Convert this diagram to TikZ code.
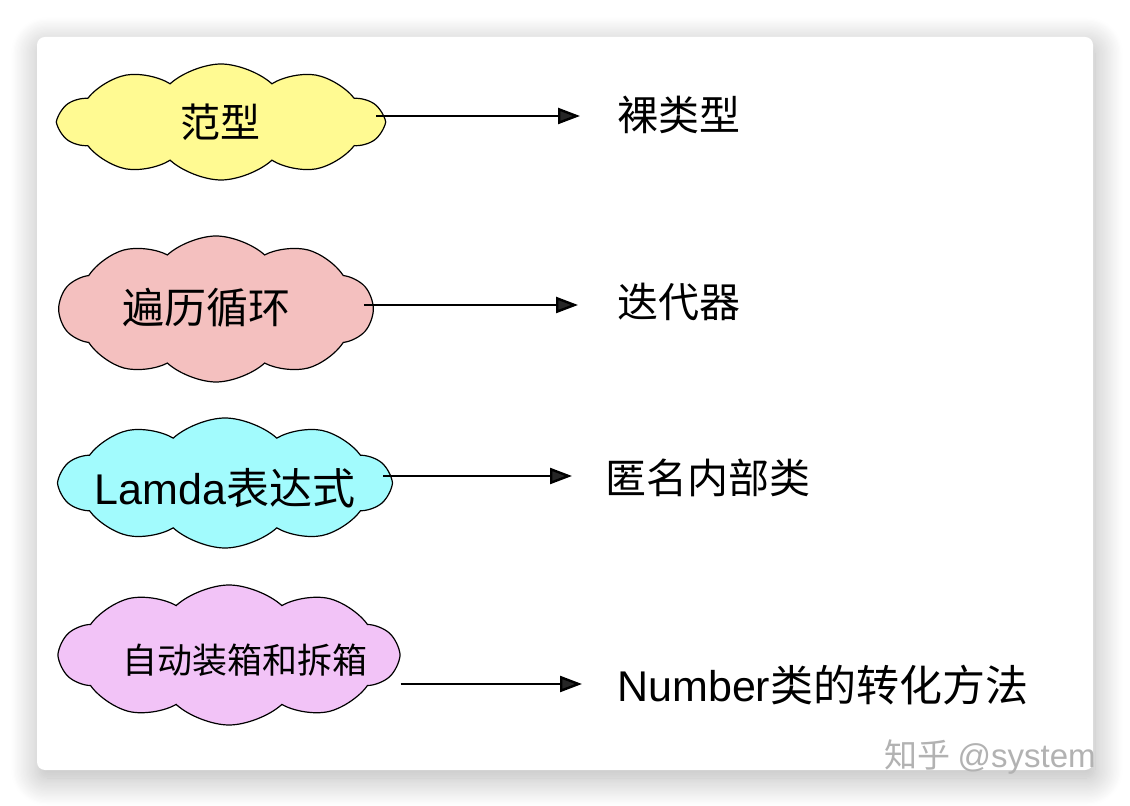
\documentclass[tikz,border=0pt]{standalone}
\usepackage{fontspec}
\setmainfont{Noto Sans CJK SC}
\newfontfamily\latinfont{Liberation Sans}
\usetikzlibrary{shapes.symbols,arrows.meta,shadows.blur}
\definecolor{puffyellow}{HTML}{FFFA92}
\definecolor{puffrose}{HTML}{F4C0BF}
\definecolor{puffcyan}{HTML}{A2FBFD}
\definecolor{puffviolet}{HTML}{F2C3F7}
\tikzset{
  puff/.style={cloud, cloud puffs=10, cloud puff arc=85, cloud ignores aspect,
    draw=black, line width=0.6pt, inner sep=0pt},
  pufftext/.style={inner sep=0pt, font=\fontsize{20}{24}\selectfont},
  term/.style={anchor=west, inner sep=0pt, font=\fontsize{20.5}{24}\selectfont},
  link/.style={-{Triangle[length=11pt,width=8pt]}, line width=1.2pt},
}
\begin{document}
\begin{tikzpicture}[x=0.5pt, y=-0.5pt]
  \useasboundingbox (0,0) rectangle (1130,806);
  % cartao branco com sombra, as nuvens a esquerda e o termo que cada uma puxa a direita
  \fill[white, rounded corners=4pt,
    blur shadow={shadow xshift=1pt, shadow yshift=-4pt, shadow blur radius=14pt,
      shadow blur steps=24, shadow opacity=30}]
    (37,37) rectangle (1093,770);
  \node[puff, fill=puffyellow, minimum width=161.5pt, minimum height=58pt] (fanxing) at (221,122) {};
  \node[puff, fill=puffrose, minimum width=156.5pt, minimum height=73pt] (bianli) at (216,309) {};
  \node[puff, fill=puffcyan, minimum width=165pt, minimum height=65pt] (lamda) at (225,483) {};
  \node[puff, fill=puffviolet, minimum width=169pt, minimum height=70pt] (boxing) at (229,655) {};
  \node[pufftext] (fanxingText) at (220,122) {范型};
  \node[pufftext, font=\fontsize{21}{24}\selectfont] (bianliText) at (206,308) {遍历循环};
  \node[pufftext, font=\fontsize{21.5}{24}\selectfont] (lamdaText) at (225,488) {{\latinfont Lamda}表达式};
  \node[pufftext, font=\fontsize{17.5}{21}\selectfont] (boxingText) at (245,660) {自动装箱和拆箱};
  \node[term] (luolei) at (617,115) {裸类型};
  \node[term] (diedai) at (617,302) {迭代器};
  \node[term] (niming) at (605,478) {匿名内部类};
  \node[term, font=\fontsize{21.5}{24}\selectfont] (number) at (617,685) {{\latinfont Number}类的转化方法};
  \coordinate (tip1) at (580,116);
  \coordinate (tip2) at (578,305);
  \coordinate (tip3) at (572,476);
  \coordinate (tip4) at (582,684);
  \draw[link] ([xshift=-5pt]fanxing.east |- tip1) -- (tip1);
  \draw[link] ([xshift=-5pt]bianli.east |- tip2) -- (tip2);
  \draw[link] ([xshift=-5pt]lamda.east |- tip3) -- (tip3);
  \draw[link] (boxing.east |- tip4) -- (tip4);
  \node[text=black!30, font=\fontsize{16.5}{20}\selectfont] (mark) at (990,757) {知乎 {\latinfont @system}};
\end{tikzpicture}
\end{document}
